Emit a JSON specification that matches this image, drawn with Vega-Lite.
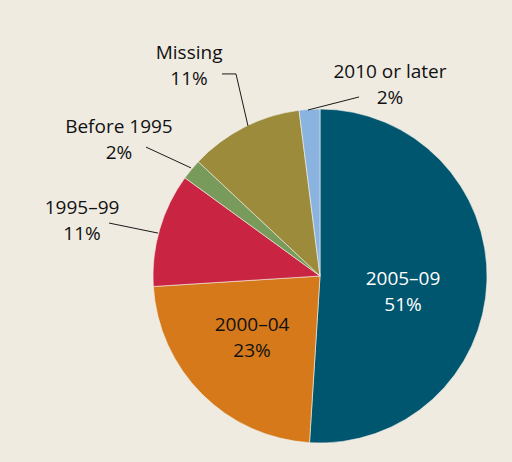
{
  "$schema": "https://vega.github.io/schema/vega-lite/v6.json",
  "autosize": {"type": "none"},
  "width": 334,
  "height": 334,
  "padding": {"left": 153, "right": 25, "top": 109, "bottom": 19},
  "background": "#efebe1",
  "config": {"view": {"stroke": null}},
  "datasets": {
    "slices": [
      {"category": "2005–09", "pct": 51, "order": 1},
      {"category": "2000–04", "pct": 23, "order": 2},
      {"category": "1995–99", "pct": 11, "order": 3},
      {"category": "Before 1995", "pct": 2, "order": 4},
      {"category": "Missing", "pct": 11, "order": 5},
      {"category": "2010 or later", "pct": 2, "order": 6}
    ],
    "labels": [
      {"category": "Missing", "pct": "11%", "x": -0.784, "y": 1.257, "inside": "no"},
      {"category": "2010 or later", "pct": "2%", "x": 0.419, "y": 1.141, "inside": "no"},
      {"category": "Before 1995", "pct": "2%", "x": -1.204, "y": 0.814, "inside": "no"},
      {"category": "1995–99", "pct": "11%", "x": -1.425, "y": 0.332, "inside": "no"},
      {"category": "2005–09", "pct": "51%", "x": 0.497, "y": -0.096, "inside": "light"},
      {"category": "2000–04", "pct": "23%", "x": -0.407, "y": -0.371, "inside": "no"}
    ],
    "leaders": [
      {"category": "Missing", "x": -0.587, "y": 1.21, "x2": -0.503, "y2": 1.21},
      {"category": "Missing", "x": -0.503, "y": 1.21, "x2": -0.431, "y2": 0.898},
      {"category": "2010 or later", "x": 0.234, "y": 1.072, "x2": -0.072, "y2": 0.994},
      {"category": "Before 1995", "x": -1.042, "y": 0.772, "x2": -0.772, "y2": 0.647},
      {"category": "1995–99", "x": -1.263, "y": 0.317, "x2": -0.97, "y2": 0.257}
    ]
  },
  "layer": [
    {
      "data": {"name": "slices"},
      "mark": {"type": "arc", "stroke": "#f4f1ea", "strokeWidth": 0.6},
      "encoding": {
        "theta": {"field": "pct", "type": "quantitative", "stack": true},
        "order": {"field": "order", "type": "quantitative"},
        "color": {
          "field": "category",
          "type": "nominal",
          "legend": null,
          "scale": {
            "domain": ["2005–09", "2000–04", "1995–99", "Before 1995", "Missing", "2010 or later"],
            "range": ["#00566e", "#d5791b", "#c92442", "#789b5b", "#9b8b3a", "#8ab4df"]
          }
        }
      }
    },
    {
      "data": {"name": "leaders"},
      "mark": {"type": "rule", "color": "#1a1a1a", "strokeWidth": 1},
      "encoding": {
        "x": {"field": "x", "type": "quantitative", "scale": {"domain": [-1, 1]}, "axis": null},
        "y": {"field": "y", "type": "quantitative", "scale": {"domain": [-1, 1]}, "axis": null},
        "x2": {"field": "x2"},
        "y2": {"field": "y2"}
      }
    },
    {
      "data": {"name": "labels"},
      "mark": {"type": "text", "font": "Open Sans", "fontSize": 19, "dy": -13, "baseline": "middle", "align": "center"},
      "encoding": {
        "x": {"field": "x", "type": "quantitative", "scale": {"domain": [-1, 1]}, "axis": null},
        "y": {"field": "y", "type": "quantitative", "scale": {"domain": [-1, 1]}, "axis": null},
        "text": {"field": "category"},
        "color": {"field": "inside", "type": "nominal", "scale": {"domain": ["no", "light"], "range": ["#111111", "#ffffff"]}, "legend": null}
      }
    },
    {
      "data": {"name": "labels"},
      "mark": {"type": "text", "font": "Open Sans", "fontSize": 19, "dy": 13, "baseline": "middle", "align": "center"},
      "encoding": {
        "x": {"field": "x", "type": "quantitative", "scale": {"domain": [-1, 1]}, "axis": null},
        "y": {"field": "y", "type": "quantitative", "scale": {"domain": [-1, 1]}, "axis": null},
        "text": {"field": "pct"},
        "color": {"field": "inside", "type": "nominal", "scale": {"domain": ["no", "light"], "range": ["#111111", "#ffffff"]}, "legend": null}
      }
    }
  ],
  "resolve": {"scale": {"color": "independent"}}
}
